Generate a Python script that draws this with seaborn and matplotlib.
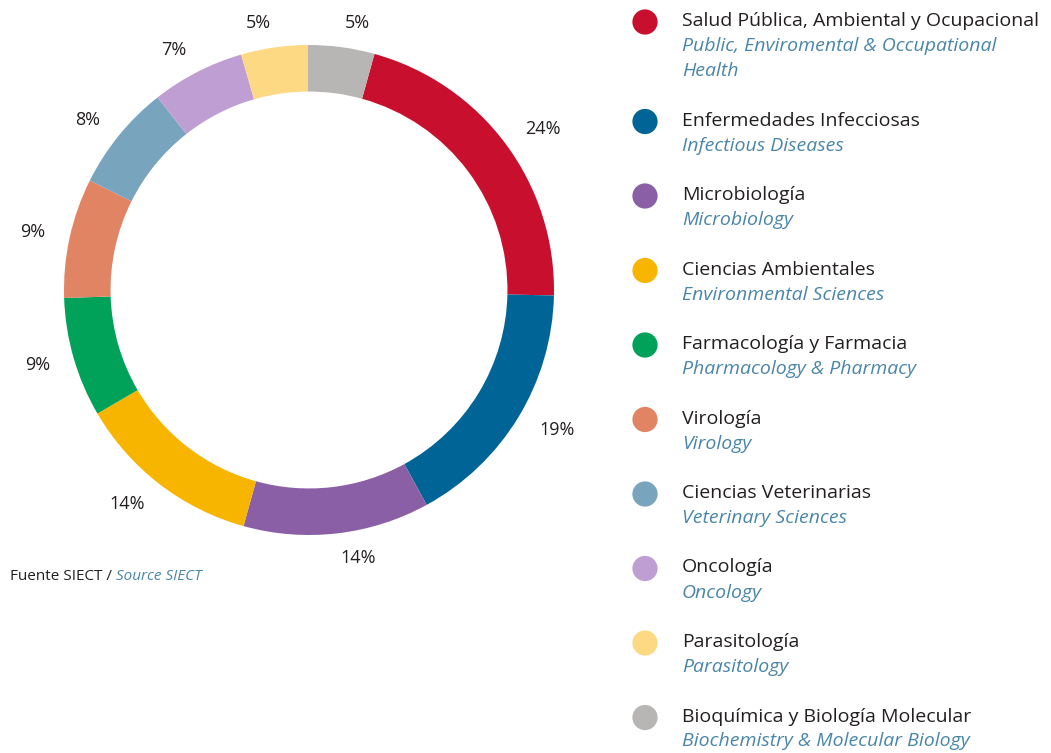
import matplotlib.pyplot as plt
import seaborn as sns

# data
areas_es = ['Salud Pública, Ambiental y Ocupacional', 'Enfermedades Infecciosas', 'Microbiología',
            'Ciencias Ambientales', 'Farmacología y Farmacia', 'Virología',
            'Ciencias Veterinarias', 'Oncología', 'Parasitología',
            'Bioquímica y Biología Molecular']
areas_en = ['Public, Enviromental & Occupational\nHealth', 'Infectious Diseases', 'Microbiology',
            'Environmental Sciences', 'Pharmacology & Pharmacy', 'Virology',
            'Veterinary Sciences', 'Oncology', 'Parasitology',
            'Biochemistry & Molecular Biology']
shares = [24, 19, 14, 14, 9, 9, 8, 7, 5, 5]
colors = ['#c8102e', '#006496', '#8a5fa5', '#f7b500', '#00a25a', '#e08464',
          '#78a4be', '#bf9fd3', '#fed984', '#b8b6b4']

sns.set_theme(style='white')
plt.rcParams['font.family'] = ['Open Sans', 'DejaVu Sans']

dark = '#231f20'
blue_txt = '#4a86a8'

fig = plt.figure(figsize=(10.51, 7.53), dpi=100)

# donut: centre (309, 290) px, radius 245 px
W, H = 1051, 753
half = 250
ax = fig.add_axes([(309 - half) / W, (H - 290 - half) / H, 2 * half / W, 2 * half / H])
wedges, texts = ax.pie(shares, colors=colors, labels=[f'{v}%' for v in shares],
                       startangle=74.5, counterclock=False, labeldistance=1.1,
                       wedgeprops=dict(width=0.19, linewidth=0),
                       textprops=dict(fontsize=13, color=dark))
lim = half / 245
ax.set_xlim(-lim, lim)
ax.set_ylim(-lim, lim)
ax.set_aspect('equal')

# legend drawn in pixel coordinates
lg = fig.add_axes([0, 0, 1, 1], zorder=-1)
lg.set_xlim(0, W)
lg.set_ylim(H, 0)
lg.axis('off')

y = 21
line_h = 25
for es, en, c in zip(areas_es, areas_en, colors):
    lg.scatter(645, y + 1, s=330, color=c, edgecolor='none')
    lg.text(682, y, es, fontsize=14, color=dark, va='center', ha='left')
    lines = en.split('\n')
    for k, ln in enumerate(lines):
        lg.text(682, y + line_h * (k + 1), ln, fontsize=14, color=blue_txt,
                style='italic', va='center', ha='left')
    y += line_h * (len(lines) + 1) + 24.5

# source note
t1 = lg.text(10, 576, 'Fuente SIECT / ', fontsize=11, color=dark, va='center', ha='left')
fig.canvas.draw()
bb = t1.get_window_extent()
lg.text(10 + bb.width, 576, 'Source SIECT', fontsize=11, color=blue_txt,
        style='italic', va='center', ha='left')

fig.savefig('out.png', dpi=100, facecolor='white')
